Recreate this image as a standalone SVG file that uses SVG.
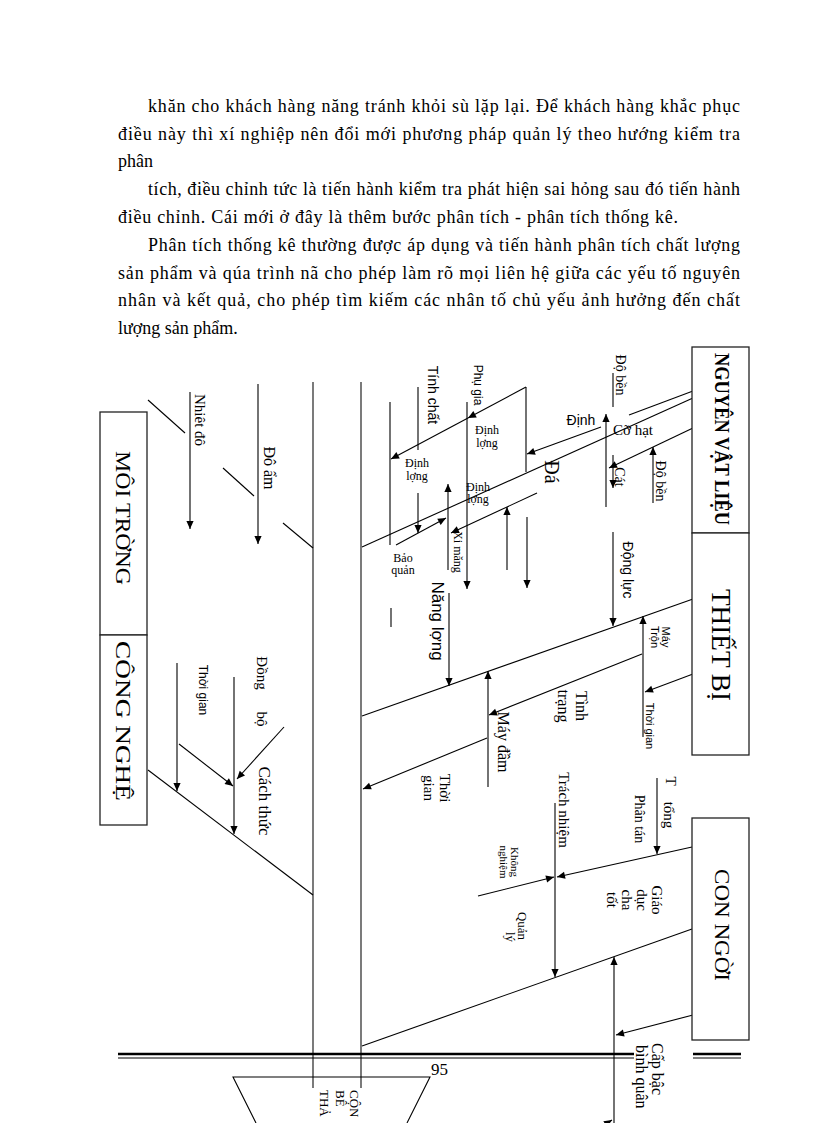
<svg xmlns="http://www.w3.org/2000/svg" width="816" height="1123" viewBox="0 0 816 1123">
<style>
.pg{font-family:"Liberation Serif","Times New Roman",serif;font-size:18px;fill:#000}
.t{font-family:"Liberation Serif","Times New Roman",serif;fill:#000}
.h{font-family:"Liberation Sans",Arial,sans-serif;fill:#000}
.ln{stroke:#000;stroke-width:1.1;fill:none}
.ar{stroke:#000;stroke-width:1.1;fill:none;marker-end:url(#ah)}
.box{fill:#fff;stroke:#222;stroke-width:1.3}
.sp{stroke:#333;stroke-width:1.3}
</style>
<defs>
<marker id="ah" viewBox="0 0 10 10" refX="10" refY="5" markerWidth="9" markerHeight="8" markerUnits="userSpaceOnUse" orient="auto"><path d="M0,0.5 L10,5 L0,9.5 z" fill="#000"/></marker>
</defs>
<rect width="816" height="1123" fill="#fff"/>

<g id="page-text" class="pg">
<text x="148" y="112" textLength="592" lengthAdjust="spacing">khăn cho khách hàng năng tránh khỏi sù lặp lại.  Để khách hàng khắc phục</text>
<text x="118" y="140" textLength="622" lengthAdjust="spacing">điều này thì xí nghiệp nên đổi mới phương pháp quản lý theo hướng kiểm tra</text>
<text x="118" y="167">phân</text>
<text x="148" y="195" textLength="592" lengthAdjust="spacing">tích, điều chỉnh tức là tiến hành kiểm tra phát hiện sai hỏng sau đó tiến hành</text>
<text x="118" y="223" textLength="560" lengthAdjust="spacing">điều chỉnh. Cái mới ở đây là thêm bước phân tích - phân tích thống kê.</text>
<text x="148" y="251" textLength="592" lengthAdjust="spacing">Phân tích thống kê thường được áp dụng và tiến hành phân tích chất lượng</text>
<text x="118" y="279" textLength="622" lengthAdjust="spacing">sản phẩm và qúa trình nã cho phép làm rõ mọi liên hệ giữa các yếu tố nguyên</text>
<text x="118" y="306" textLength="622" lengthAdjust="spacing">nhân và kết quả, cho phép tìm kiếm các nhân tố chủ yếu ảnh hưởng đến chất</text>
<text x="118" y="334">lượng sản phẩm.</text>
</g>

<g id="connectors">
<!-- spine -->
<line class="sp" x1="313" y1="382" x2="313" y2="1088"/>
<line class="sp" x1="361" y1="382" x2="361" y2="1088"/>
<!-- MOI TRUONG -->
<line class="ln" x1="148" y1="400" x2="185" y2="433"/>
<line class="ln" x1="223" y1="468" x2="254" y2="496"/>
<line class="ln" x1="283" y1="523" x2="313" y2="548"/>
<line class="ar" x1="190" y1="392" x2="190" y2="529"/>
<line class="ar" x1="258" y1="384" x2="258" y2="544"/>
<!-- CONG NGHE -->
<line class="ln" x1="148" y1="770" x2="313" y2="895"/>
<line class="ar" x1="177" y1="663" x2="177" y2="791"/>
<line class="ar" x1="234" y1="677" x2="234" y2="834"/>
<line class="ar" x1="179" y1="744" x2="233" y2="786"/>
<line class="ar" x1="284" y1="727" x2="237" y2="779"/>
<!-- NGUYEN VAT LIEU -->
<line class="ln" x1="693" y1="391" x2="629" y2="415"/>
<line class="ln" x1="693" y1="398" x2="362" y2="547"/>
<line class="ar" x1="693" y1="428" x2="609" y2="468"/>
<line class="ar" x1="606" y1="507" x2="606" y2="414"/>
<line class="ar" x1="613" y1="455" x2="613" y2="488"/>
<line class="ar" x1="653" y1="503" x2="653" y2="447"/>
<line class="ln" x1="613" y1="373" x2="613" y2="407"/>
<line class="ar" x1="601" y1="427" x2="527" y2="454"/>
<line class="ln" x1="526" y1="387" x2="526" y2="472"/>
<line class="ar" x1="526" y1="387" x2="468" y2="418"/>
<line class="ar" x1="468" y1="418" x2="391" y2="459"/>
<line class="ln" x1="390" y1="402" x2="390" y2="545"/>
<line class="ln" x1="418" y1="387" x2="418" y2="450"/>
<line class="ar" x1="418" y1="493" x2="418" y2="533"/>
<line class="ar" x1="467" y1="402" x2="467" y2="589"/>
<line class="ar" x1="448" y1="570" x2="448" y2="484"/>
<line class="ar" x1="396" y1="545" x2="446" y2="518"/>
<line class="ar" x1="537" y1="493" x2="451" y2="533"/>
<line class="ar" x1="507" y1="570" x2="507" y2="507"/>
<line class="ar" x1="527" y1="517" x2="527" y2="588"/>
<line class="ar" x1="613" y1="532" x2="613" y2="626"/>
<line class="ar" x1="449" y1="593" x2="449" y2="686"/>
<line class="ln" x1="391" y1="608" x2="391" y2="627"/>
<!-- THIET BI -->
<line class="ln" x1="693" y1="599" x2="362" y2="716"/>
<line class="ar" x1="693" y1="674" x2="645" y2="692"/>
<line class="ar" x1="643" y1="737" x2="643" y2="616"/>
<line class="ar" x1="642" y1="654" x2="489" y2="715"/>
<line class="ar" x1="488" y1="787" x2="488" y2="671"/>
<line class="ar" x1="487" y1="738" x2="363" y2="789"/>
<!-- CON NGUOI -->
<line class="ar" x1="692" y1="847" x2="557" y2="877"/>
<line class="ar" x1="478" y1="896" x2="554" y2="877"/>
<line class="ar" x1="657" y1="778" x2="657" y2="854"/>
<line class="ar" x1="555" y1="803" x2="555" y2="977"/>
<line class="ln" x1="692" y1="929" x2="362" y2="1046"/>
<line class="ar" x1="614" y1="1123" x2="614" y2="957"/>
<line class="ar" x1="693" y1="1015" x2="616" y2="1035"/>
<line class="ar" x1="596" y1="1130" x2="612" y2="1120"/>
<!-- page rule and bottom shape -->
<line x1="118" y1="1054" x2="634" y2="1054" stroke="#000" stroke-width="2.4"/>
<line x1="118" y1="1058" x2="634" y2="1058" stroke="#000" stroke-width="1"/>
<line x1="693" y1="1054" x2="741" y2="1054" stroke="#000" stroke-width="2.4"/>
<line x1="693" y1="1058" x2="741" y2="1058" stroke="#000" stroke-width="1"/>
<polyline class="ln" points="256,1123 233,1077 430,1077 407,1123"/>
</g>

<g id="node-nguyen-vat-lieu">
<rect class="box" x="692" y="347" width="57" height="186"/>
<text class="t" transform="translate(722,439) rotate(90)" text-anchor="middle" dominant-baseline="central" font-size="20" font-weight="bold" textLength="172" lengthAdjust="spacingAndGlyphs">NGUYÊN VẬT LIỆU</text>
</g>
<g id="node-thiet-bi">
<rect class="box" x="692" y="533" width="57" height="222"/>
<text class="t" transform="translate(721,645) rotate(90)" text-anchor="middle" dominant-baseline="central" font-size="27" textLength="112" lengthAdjust="spacingAndGlyphs">THIẾT BỊ</text>
</g>
<g id="node-con-ngoi">
<rect class="box" x="692" y="818" width="57" height="222"/>
<text class="t" transform="translate(722,925) rotate(90)" text-anchor="middle" dominant-baseline="central" font-size="22" textLength="112" lengthAdjust="spacingAndGlyphs">CON NGỜI</text>
</g>
<g id="node-moi-trong">
<rect class="box" x="100" y="412" width="47" height="223"/>
<text class="t" transform="translate(123,518) rotate(90)" text-anchor="middle" dominant-baseline="central" font-size="22" textLength="134" lengthAdjust="spacingAndGlyphs">MÔI TRỜNG</text>
</g>
<g id="node-cong-nghe">
<rect class="box" x="100" y="635" width="47" height="190"/>
<text class="t" transform="translate(123,721) rotate(90)" text-anchor="middle" dominant-baseline="central" font-size="22" textLength="160" lengthAdjust="spacingAndGlyphs">CÔNG NGHỆ</text>
</g>

<g id="labels">
<!-- left -->
<text class="t" transform="translate(200,420) rotate(90)" text-anchor="middle" dominant-baseline="central" font-size="15">Nhiêt đô</text>
<text class="t" transform="translate(269,468) rotate(90)" text-anchor="middle" dominant-baseline="central" font-size="16">Đô ẩm</text>
<text class="h" transform="translate(203,690) rotate(90)" text-anchor="middle" dominant-baseline="central" font-size="12">Thời gian</text>
<text class="t" transform="translate(262,673) rotate(90)" text-anchor="middle" dominant-baseline="central" font-size="15">Đồng</text>
<text class="t" transform="translate(262,719) rotate(90)" text-anchor="middle" dominant-baseline="central" font-size="15">bộ</text>
<text class="t" transform="translate(264,801) rotate(90)" text-anchor="middle" dominant-baseline="central" font-size="17">Cách thức</text>
<!-- nguyen vat lieu -->
<text class="t" transform="translate(620,375) rotate(90)" text-anchor="middle" dominant-baseline="central" font-size="14">Độ bền</text>
<text class="h" x="581" y="425" text-anchor="middle" font-size="14">Định</text>
<text class="t" x="633" y="435" text-anchor="middle" font-size="15">Cỡ hạt</text>
<text class="t" transform="translate(552,472) rotate(90)" text-anchor="middle" dominant-baseline="central" font-size="20">Đá</text>
<text class="t" transform="translate(619,477) rotate(90)" text-anchor="middle" dominant-baseline="central" font-size="14">Cát</text>
<text class="t" transform="translate(660,481) rotate(90)" text-anchor="middle" dominant-baseline="central" font-size="14">Độ bền</text>
<text class="h" transform="translate(433,395) rotate(90)" text-anchor="middle" dominant-baseline="central" font-size="14">Tính chất</text>
<text class="h" transform="translate(478,385) rotate(90)" text-anchor="middle" dominant-baseline="central" font-size="12">Phụ gia</text>
<text class="t" x="487" y="434" text-anchor="middle" font-size="12">Định</text>
<text class="t" x="487" y="447" text-anchor="middle" font-size="12">lợng</text>
<text class="t" x="417" y="467" text-anchor="middle" font-size="12">Định</text>
<text class="t" x="417" y="480" text-anchor="middle" font-size="12">lợng</text>
<text class="t" x="478" y="491" text-anchor="middle" font-size="12">Định</text>
<text class="t" x="478" y="503" text-anchor="middle" font-size="12">lợng</text>
<text class="t" x="403" y="562" text-anchor="middle" font-size="12">Bảo</text>
<text class="t" x="403" y="574" text-anchor="middle" font-size="12">quản</text>
<text class="t" transform="translate(458,552) rotate(90)" text-anchor="middle" dominant-baseline="central" font-size="12">Xi măng</text>
<text class="h" transform="translate(628,570) rotate(90)" text-anchor="middle" dominant-baseline="central" font-size="14">Động lực</text>
<text class="h" transform="translate(437,621) rotate(90)" text-anchor="middle" dominant-baseline="central" font-size="17">Năng lợng</text>
<!-- thiet bi -->
<text class="h" transform="translate(666,637) rotate(90)" text-anchor="middle" dominant-baseline="central" font-size="11">Máy</text>
<text class="h" transform="translate(655,637) rotate(90)" text-anchor="middle" dominant-baseline="central" font-size="11">Trộn</text>
<text class="h" transform="translate(650,726) rotate(90)" text-anchor="middle" dominant-baseline="central" font-size="11">Thời gian</text>
<text class="t" transform="translate(581,706) rotate(90)" text-anchor="middle" dominant-baseline="central" font-size="16">Tình</text>
<text class="t" transform="translate(563,706) rotate(90)" text-anchor="middle" dominant-baseline="central" font-size="16">trạng</text>
<text class="t" transform="translate(503,742) rotate(90)" text-anchor="middle" dominant-baseline="central" font-size="16">Máy đầm</text>
<text class="t" transform="translate(445,788) rotate(90)" text-anchor="middle" dominant-baseline="central" font-size="15">Thời</text>
<text class="t" transform="translate(429,788) rotate(90)" text-anchor="middle" dominant-baseline="central" font-size="15">gian</text>
<!-- con ngoi -->
<text class="t" transform="translate(564,810) rotate(90)" text-anchor="middle" dominant-baseline="central" font-size="15">Trách nhiệm</text>
<text class="t" transform="translate(671,781) rotate(90)" text-anchor="middle" dominant-baseline="central" font-size="15">T</text>
<text class="t" transform="translate(669,815) rotate(90)" text-anchor="middle" dominant-baseline="central" font-size="15">tổng</text>
<text class="t" transform="translate(639,819) rotate(90)" text-anchor="middle" dominant-baseline="central" font-size="14">Phân tán</text>
<text class="t" transform="translate(515,862) rotate(90)" text-anchor="middle" dominant-baseline="central" font-size="11">Không</text>
<text class="t" transform="translate(504,862) rotate(90)" text-anchor="middle" dominant-baseline="central" font-size="11">nghiệm</text>
<text class="t" transform="translate(657,900) rotate(90)" text-anchor="middle" dominant-baseline="central" font-size="15">Giáo</text>
<text class="t" transform="translate(642,900) rotate(90)" text-anchor="middle" dominant-baseline="central" font-size="15">dục</text>
<text class="t" transform="translate(627,900) rotate(90)" text-anchor="middle" dominant-baseline="central" font-size="15">cha</text>
<text class="t" transform="translate(612,900) rotate(90)" text-anchor="middle" dominant-baseline="central" font-size="15">tốt</text>
<text class="t" transform="translate(522,926) rotate(90)" text-anchor="middle" dominant-baseline="central" font-size="13">Quản</text>
<text class="t" transform="translate(510,937) rotate(90)" text-anchor="middle" dominant-baseline="central" font-size="13">lý</text>
<text class="t" transform="translate(657,1043) rotate(90)" dominant-baseline="central" font-size="16">Cấp bậc</text>
<text class="t" transform="translate(641,1045) rotate(90)" dominant-baseline="central" font-size="16">bình quân</text>
<!-- bottom -->
<text class="t" x="431" y="1075" font-size="17">95</text>
<text class="t" transform="translate(354,1090) rotate(90)" dominant-baseline="central" font-size="13">CỘN</text>
<text class="t" transform="translate(340,1090) rotate(90)" dominant-baseline="central" font-size="13">BÊ</text>
<text class="t" transform="translate(324,1090) rotate(90)" dominant-baseline="central" font-size="13">THẢ</text>
</g>
</svg>
